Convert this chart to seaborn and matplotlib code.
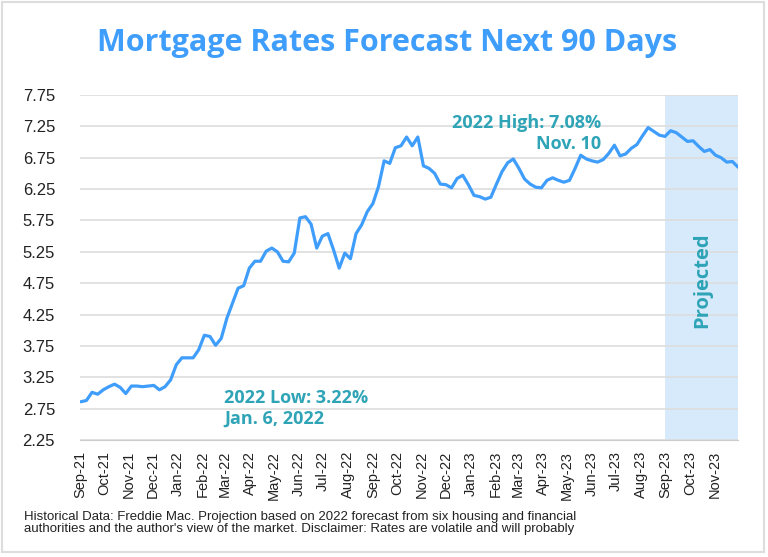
import pandas as pd
import numpy as np
import matplotlib.pyplot as plt
import matplotlib.dates as mdates
from matplotlib.patches import Rectangle
import seaborn as sns

# data (weekly 30y fixed rates)
start_date = "2021-09-02"
rates = [2.86, 2.88, 3.01, 2.98, 3.05, 3.10, 3.14, 3.09, 2.99, 3.11,
         3.11, 3.10, 3.11, 3.12, 3.05, 3.10, 3.21, 3.45, 3.56, 3.56,
         3.56, 3.69, 3.92, 3.90, 3.76, 3.87, 4.19, 4.43, 4.67, 4.71,
         4.99, 5.10, 5.10, 5.26, 5.31, 5.25, 5.10, 5.09, 5.23, 5.79,
         5.81, 5.69, 5.31, 5.50, 5.54, 5.28, 4.99, 5.23, 5.14, 5.54,
         5.68, 5.89, 6.02, 6.29, 6.70, 6.66, 6.91, 6.94, 7.08, 6.94,
         7.08, 6.62, 6.58, 6.50, 6.33, 6.32, 6.27, 6.42, 6.47, 6.32,
         6.15, 6.13, 6.09, 6.12, 6.33, 6.53, 6.67, 6.73, 6.58, 6.41,
         6.33, 6.28, 6.27, 6.39, 6.43, 6.39, 6.36, 6.39, 6.58, 6.79,
         6.73, 6.70, 6.68, 6.72, 6.82, 6.95, 6.78, 6.81, 6.90, 6.96,
         7.10, 7.23, 7.17, 7.11, 7.09, 7.18, 7.15, 7.08, 7.01, 7.02,
         6.93, 6.85, 6.88, 6.79, 6.75, 6.68, 6.69, 6.60]
projected_from = "2023-08-31"
y_ticks = [2.25, 2.75, 3.25, 3.75, 4.25, 4.75, 5.25, 5.75, 6.25, 6.75, 7.25, 7.75]

title = "Mortgage Rates Forecast Next 90 Days"
low_note = "2022 Low: 3.22%\nJan. 6, 2022"
high_note = "2022 High: 7.08%\nNov. 10"
footnote = ("Historical Data: Freddie Mac. Projection based on 2022 forecast from six housing and financial\n"
            "authorities and the author's view of the market. Disclaimer: Rates are volatile and will probably")

df = pd.DataFrame({"date": pd.date_range(start_date, periods=len(rates), freq="7D"),
                   "rate": rates})

blue = "#3f9dfb"
teal = "#2ea4b6"

sns.set_style("white")
plt.rcParams["font.family"] = ["Liberation Sans", "DejaVu Sans"]

fig = plt.figure(figsize=(7.68, 5.57), dpi=100)
ax = fig.add_axes([80 / 768, 1 - 440 / 557, 658 / 768, 345 / 557])

ax.axvspan(pd.Timestamp(projected_from), df["date"].iloc[-1], color="#d7eafc", lw=0, zorder=0)
sns.lineplot(data=df, x="date", y="rate", color=blue, lw=2.3, ax=ax, zorder=3)

ax.set_xlim(df["date"].iloc[0] - pd.Timedelta(days=1), df["date"].iloc[-1])
ax.set_ylim(2.25, 7.75)
ax.set_yticks(y_ticks)
ax.set_yticklabels([f"{t:.2f}" for t in y_ticks], fontsize=12, color="#222222")
ax.yaxis.grid(True, color="#dddddd", lw=1.2)
ax.set_axisbelow(True)

ax.xaxis.set_major_locator(mdates.MonthLocator())
ax.xaxis.set_major_formatter(mdates.DateFormatter("%b-%y"))
plt.setp(ax.get_xticklabels(), rotation=90, fontsize=10.5, color="#222222")
ax.tick_params(axis="x", length=5, color="#cccccc", pad=3)
ax.tick_params(axis="y", length=0, pad=18)
ax.set_xlabel("")
ax.set_ylabel("")
for s in ["top", "right", "left"]:
    ax.spines[s].set_visible(False)
ax.spines["bottom"].set_color("#cccccc")

ax.text(pd.Timestamp("2022-02-28"), 2.75, low_note, color=teal, fontsize=13,
        fontweight="bold", family="Open Sans", va="center", ha="left", linespacing=1.2)
ax.text(pd.Timestamp("2023-06-13"), 7.14, high_note, color=teal, fontsize=13,
        fontweight="bold", family="Open Sans", va="center", ha="right", linespacing=1.2)
ax.text(pd.Timestamp("2023-10-17"), 4.80, "Projected", color=teal, fontsize=14.5,
        fontweight="bold", family="Open Sans", rotation=90, va="center", ha="center")

fig.text(0.504, 1 - 43 / 557, title, color=blue, fontsize=22, fontweight="bold",
         family="Open Sans", ha="center", va="center")
fig.text(24 / 768, 1 - 511 / 557, footnote, fontsize=9.5, color="#222222",
         family=["Liberation Sans Narrow", "Liberation Sans"], ha="left", va="top", linespacing=0.95)

fig.patches.append(Rectangle((2 / 768, 5 / 557), 762 / 768, 550 / 557, transform=fig.transFigure,
                             fill=False, ec="#dddddd", lw=1.5))

fig.savefig("out.png", dpi=100)
